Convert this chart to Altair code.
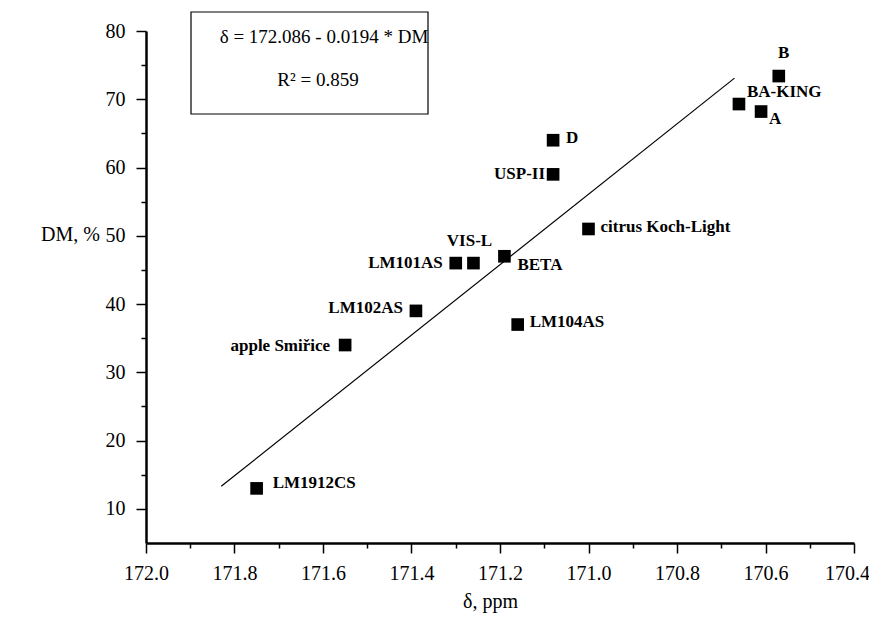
import altair as alt
import pandas as pd

# ---- data ----
names = ["LM1912CS", "apple Smiřice", "LM102AS", "LM101AS", "VIS-L", "BETA",
         "LM104AS", "citrus Koch-Light", "USP-II", "D", "BA-KING", "A", "B"]
delta = [171.75, 171.55, 171.39, 171.30, 171.26, 171.19,
         171.16, 171.00, 171.08, 171.08, 170.66, 170.61, 170.57]
dm = [13.0, 34.0, 39.0, 46.0, 46.0, 47.0,
      37.0, 51.0, 59.0, 64.0, 69.3, 68.2, 73.4]

fit_delta = [171.83, 170.67]
fit_dm = [13.3, 73.1]

x_major = [172.0, 171.8, 171.6, 171.4, 171.2, 171.0, 170.8, 170.6, 170.4]
x_minor = [171.9, 171.7, 171.5, 171.3, 171.1, 170.9, 170.7, 170.5]
y_major = [10, 20, 30, 40, 50, 60, 70, 80]
y_minor = [15, 25, 35, 45, 55, 65, 75]

eq_line1 = "δ = 172.086 - 0.0194 * DM"
eq_line2 = "R² = 0.859"

FONT = "Liberation Serif"

df = pd.DataFrame({"name": names, "delta": delta, "dm": dm})
fit = pd.DataFrame({"delta": fit_delta, "dm": fit_dm})
one = pd.DataFrame({"k": [0]})

xscale = alt.Scale(domain=[172.0, 170.4], zero=False, nice=False)
yscale = alt.Scale(domain=[5, 80], zero=False, nice=False)

x_major_axis = alt.Axis(values=x_major, format=".1f", orient="bottom", title="δ, ppm",
                        tickSize=10, labelPadding=10, tickWidth=1.5, domainWidth=2.5,
                        domainColor="black", tickColor="black", labelColor="black",
                        labelFont=FONT, labelFontSize=20, titleFont=FONT, titleFontSize=20,
                        titleFontWeight="normal", titleColor="black",
                        titleY=58, titleX=344, titleBaseline="middle", grid=False,
                        labelFlush=False,
                        labelOffset={"condition": {"test": "datum.value < 170.45", "value": -7},
                                     "value": 0})
y_major_axis = alt.Axis(values=y_major, orient="left", title="DM, %",
                        tickSize=10, labelPadding=11, tickWidth=1.5, domainWidth=2.5,
                        domainColor="black", tickColor="black", labelColor="black",
                        labelFont=FONT, labelFontSize=20, titleFont=FONT, titleFontSize=20,
                        titleFontWeight="normal", titleColor="black", titleAngle=0,
                        titleX=-76, titleY=203, titleAlign="center", titleBaseline="middle",
                        grid=False, labelFlush=False)
x_minor_axis = alt.Axis(values=x_minor, orient="bottom", labels=False, title=None,
                        tickSize=5, tickWidth=1.5, domain=False, tickColor="black", grid=False)
y_minor_axis = alt.Axis(values=y_minor, orient="left", labels=False, title=None,
                        tickSize=5, tickWidth=1.5, domain=False, tickColor="black", grid=False)

points = alt.Chart(df).mark_square(size=160, color="black", opacity=1).encode(
    x=alt.X("delta:Q", scale=xscale, axis=x_major_axis),
    y=alt.Y("dm:Q", scale=yscale, axis=y_major_axis),
)

line = alt.Chart(fit).mark_line(color="black", strokeWidth=1.2).encode(
    x=alt.X("delta:Q", scale=xscale, axis=x_minor_axis),
    y=alt.Y("dm:Q", scale=yscale, axis=y_minor_axis),
)

placements = {
    "LM1912CS": ("left", 16, -5),
    "apple Smiřice": ("right", -15, 1),
    "LM102AS": ("right", -13, -3),
    "LM101AS": ("right", -13, 0),
    "VIS-L": ("center", -4, -22),
    "BETA": ("left", 13, 9),
    "LM104AS": ("left", 12, -3),
    "citrus Koch-Light": ("left", 12, -2),
    "USP-II": ("right", -8, 0),
    "D": ("left", 13, -2),
    "BA-KING": ("left", 8, -12),
    "A": ("center", 14, 7),
    "B": ("center", 5, -23),
}

label_layers = []
for n, (al, dx, dy) in placements.items():
    label_layers.append(
        alt.Chart(df).transform_filter(alt.datum.name == n).mark_text(
            align=al, baseline="middle", dx=dx, dy=dy, font=FONT, fontSize=17,
            fontWeight="bold", color="black"
        ).encode(
            x=alt.X("delta:Q", scale=xscale, axis=None),
            y=alt.Y("dm:Q", scale=yscale, axis=None),
            text="name:N",
        )
    )

box = alt.Chart(one).mark_rect(fill="white", stroke="black", strokeWidth=1.2).encode(
    x=alt.value(45), x2=alt.value(282), y=alt.value(-19), y2=alt.value(83)
)
eq1 = alt.Chart(one).mark_text(font=FONT, fontSize=19, color="black", align="center",
                               baseline="middle").encode(
    x=alt.value(178), y=alt.value(6), text=alt.value(eq_line1)
)
eq2 = alt.Chart(one).mark_text(font=FONT, fontSize=19, color="black", align="center",
                               baseline="middle").encode(
    x=alt.value(172), y=alt.value(49), text=alt.value(eq_line2)
)

chart = alt.layer(points, line, *label_layers, box, eq1, eq2).resolve_axis(
    x="independent", y="independent"
).properties(
    width=708, height=512,
    padding={"left": 138, "top": 23, "right": 15, "bottom": 72},
    autosize=alt.AutoSizeParams(type="none"),
    background="white",
).configure_view(stroke=None)

chart.save("out.html", embed_options={"renderer": "svg", "actions": False})
